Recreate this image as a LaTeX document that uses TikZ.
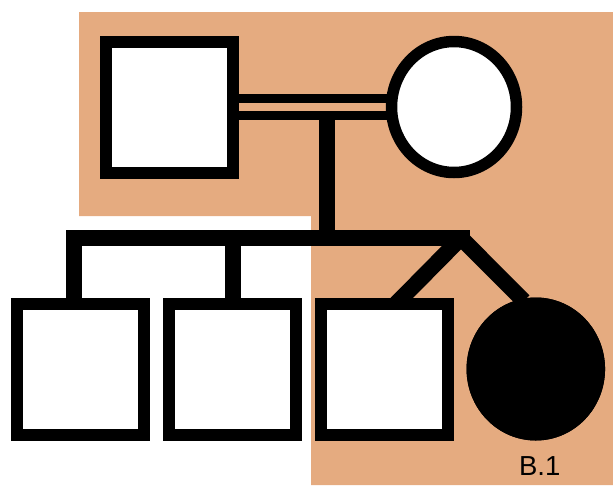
\documentclass[tikz,border=0pt]{standalone}
\usepackage{fontspec}
\setmainfont{Liberation Sans}
\usetikzlibrary{shapes.geometric,calc}
\definecolor{bgorange}{RGB}{229,171,128}
\tikzset{
  male/.style={draw=black, fill=white, line width=12pt, rectangle, minimum width=126.5pt, minimum height=131pt, inner sep=0pt, outer sep=0pt},
  female/.style={draw=black, fill=white, line width=11.5pt, ellipse, minimum width=125pt, minimum height=131pt, inner sep=0pt, outer sep=0pt},
  affected/.style={fill=black},
  link/.style={draw=black, line width=16pt},
  mating/.style={draw=black, line width=8.5pt},
  lbl/.style={font=\fontsize{27.5}{32}\selectfont, inner sep=0pt}
}
\begin{document}
\begin{tikzpicture}[x=1pt,y=-1pt]
\useasboundingbox (0,0) rectangle (613,485);
\fill[bgorange] (79,12) -- (613,12) -- (613,485) -- (311,485) -- (311,216) -- (79,216) -- cycle;
% nodes
\node[male] (fa) at (169.3,107) {};
\node[female] (mo) at (454,107) {};
\node[male] (s1) at (80.7,369) {};
\node[male] (s2) at (232.5,369) {};
\node[male] (s3) at (384.3,369) {};
\node[female, affected, minimum width=127pt, minimum height=131.5pt] (d1) at (535.8,369) {};
\node[lbl] (b1) at (539.7,466) {B.1};
% connectors
\coordinate (mate) at (327.3,115.5);
\coordinate (sibL) at (74.3,238);
\coordinate (twin) at (461,238);
\coordinate (sibR) at (470,238);
\coordinate (sibM) at (327.3,238);
\draw[mating] ([yshift=8.5pt]fa.east) -- ([yshift=8.5pt]mo.west);
\draw[mating] ([yshift=-8.5pt]fa.east) -- ([yshift=-8.5pt]mo.west);
\draw[link] (mate) -- (sibM);
\draw[link, line join=miter] (sibL |- s1.north) -- (sibL) -- (sibR);
\draw[link] (s2.north) -- (s2.north |- sibL);
\draw[link, line join=bevel] ([xshift=12pt]s3.north) -- (twin) -- ($(d1.center)+(-12,-68)$);
\node[female, affected, minimum width=127pt, minimum height=131.5pt] at (d1) {};
\end{tikzpicture}
\end{document}
